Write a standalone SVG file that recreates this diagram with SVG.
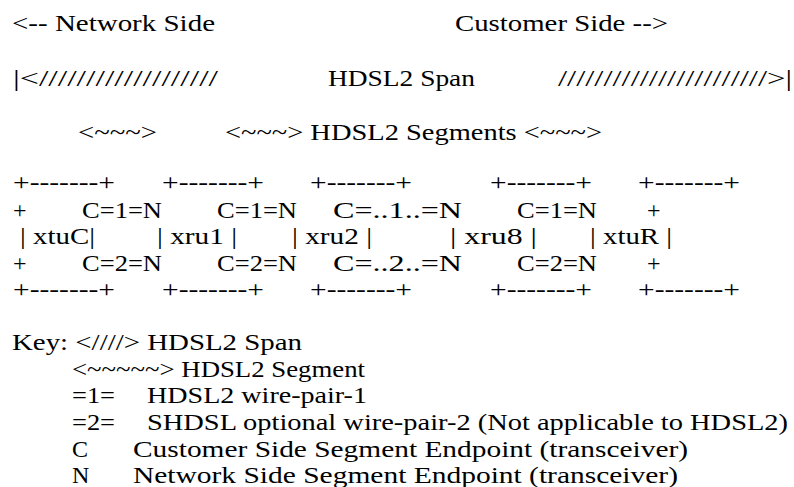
<svg xmlns="http://www.w3.org/2000/svg" width="794" height="487" viewBox="0 0 794 487">
<style>
text{font-family:"Liberation Serif","Times New Roman",serif;font-size:24px;fill:#000;}
</style>
<rect width="794" height="487" fill="#fff"/>
<g id="header">
<text x="12" y="31" textLength="203" lengthAdjust="spacingAndGlyphs">&lt;-- Network Side</text>
<text x="455" y="31" textLength="213" lengthAdjust="spacingAndGlyphs">Customer Side --&gt;</text>
<text x="13" y="86" textLength="205" lengthAdjust="spacingAndGlyphs">|&lt;///////////////////</text>
<text x="328" y="86" textLength="147" lengthAdjust="spacingAndGlyphs">HDSL2 Span</text>
<text x="558" y="86" textLength="234" lengthAdjust="spacingAndGlyphs">///////////////////////&gt;|</text>
<text x="78" y="140" textLength="79" lengthAdjust="spacingAndGlyphs">&lt;~~~&gt;</text>
<text x="225" y="140" textLength="377" lengthAdjust="spacingAndGlyphs">&lt;~~~&gt; HDSL2 Segments &lt;~~~&gt;</text>
</g>
<g id="xtuC">
<text x="13" y="190" textLength="102" lengthAdjust="spacingAndGlyphs">+-------+</text>
<text x="20" y="244" textLength="75" lengthAdjust="spacingAndGlyphs">| xtuC|</text>
<text x="13" y="297" textLength="102" lengthAdjust="spacingAndGlyphs">+-------+</text>
</g>
<g id="xru1">
<text x="162" y="190" textLength="102" lengthAdjust="spacingAndGlyphs">+-------+</text>
<text x="157" y="244" textLength="80" lengthAdjust="spacingAndGlyphs">| xru1 |</text>
<text x="162" y="297" textLength="102" lengthAdjust="spacingAndGlyphs">+-------+</text>
</g>
<g id="xru2">
<text x="310" y="190" textLength="102" lengthAdjust="spacingAndGlyphs">+-------+</text>
<text x="292" y="244" textLength="80" lengthAdjust="spacingAndGlyphs">| xru2 |</text>
<text x="310" y="297" textLength="102" lengthAdjust="spacingAndGlyphs">+-------+</text>
</g>
<g id="xru8">
<text x="490" y="190" textLength="102" lengthAdjust="spacingAndGlyphs">+-------+</text>
<text x="450" y="244" textLength="87" lengthAdjust="spacingAndGlyphs">| xru8 |</text>
<text x="490" y="297" textLength="102" lengthAdjust="spacingAndGlyphs">+-------+</text>
</g>
<g id="xtuR">
<text x="638" y="190" textLength="102" lengthAdjust="spacingAndGlyphs">+-------+</text>
<text x="590" y="244" textLength="82" lengthAdjust="spacingAndGlyphs">| xtuR |</text>
<text x="638" y="297" textLength="102" lengthAdjust="spacingAndGlyphs">+-------+</text>
</g>
<g id="connectors">
<text x="13" y="218">+</text>
<text x="82" y="218" textLength="80" lengthAdjust="spacingAndGlyphs">C=1=N</text>
<text x="217" y="218" textLength="80" lengthAdjust="spacingAndGlyphs">C=1=N</text>
<text x="333" y="218" textLength="129" lengthAdjust="spacingAndGlyphs">C=..1..=N</text>
<text x="517" y="218" textLength="80" lengthAdjust="spacingAndGlyphs">C=1=N</text>
<text x="647" y="218">+</text>
<text x="13" y="271">+</text>
<text x="82" y="271" textLength="80" lengthAdjust="spacingAndGlyphs">C=2=N</text>
<text x="217" y="271" textLength="80" lengthAdjust="spacingAndGlyphs">C=2=N</text>
<text x="333" y="271" textLength="129" lengthAdjust="spacingAndGlyphs">C=..2..=N</text>
<text x="517" y="271" textLength="80" lengthAdjust="spacingAndGlyphs">C=2=N</text>
<text x="647" y="271">+</text>
</g>
<g id="key">
<text x="12" y="350" textLength="290" lengthAdjust="spacingAndGlyphs">Key: &lt;////&gt; HDSL2 Span</text>
<text x="72" y="377" textLength="293" lengthAdjust="spacingAndGlyphs">&lt;~~~~~&gt; HDSL2 Segment</text>
<text x="72" y="403" textLength="43" lengthAdjust="spacingAndGlyphs">=1=</text>
<text x="147" y="403" textLength="220" lengthAdjust="spacingAndGlyphs">HDSL2 wire-pair-1</text>
<text x="72" y="430" textLength="43" lengthAdjust="spacingAndGlyphs">=2=</text>
<text x="147" y="430" textLength="641" lengthAdjust="spacingAndGlyphs">SHDSL optional wire-pair-2 (Not applicable to HDSL2)</text>
<text x="72" y="457">C</text>
<text x="133" y="457" textLength="555" lengthAdjust="spacingAndGlyphs">Customer Side Segment Endpoint (transceiver)</text>
<text x="72" y="483">N</text>
<text x="133" y="483" textLength="545" lengthAdjust="spacingAndGlyphs">Network Side Segment Endpoint (transceiver)</text>
</g>
</svg>
